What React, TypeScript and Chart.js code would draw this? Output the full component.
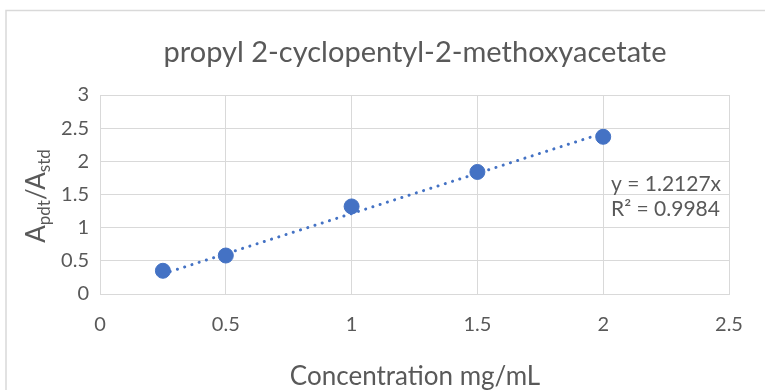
import React, { useEffect, useRef } from "react";
import { Chart, registerables } from "chart.js";

Chart.register(...registerables);

const titleText = "propyl 2-cyclopentyl-2-methoxyacetate";
const xTitle = "Concentration mg/mL";
const concentrations = [0.25, 0.5, 1, 1.5, 2];
const ratios = [0.35, 0.58, 1.32, 1.84, 2.37];
const trendX = [0.25, 2];
const trendY = [0.303, 2.425];
const equationLines = ["y = 1.2127x", "R² = 0.9984"];
const xTicks = [0, 0.5, 1, 1.5, 2, 2.5];
const yTicks = [0, 0.5, 1, 1.5, 2, 2.5, 3];

const FONT = "Lato, 'Open Sans', sans-serif";
const TEXT = "#595959";
const BLUE = "#4472C4";

const decorPlugin = {
  id: "decor",
  beforeDraw(chart: any) {
    const ctx = chart.ctx;
    ctx.save();
    ctx.fillStyle = "#ffffff";
    ctx.fillRect(0, 0, chart.width, chart.height);
    ctx.strokeStyle = "#d9d9d9";
    ctx.lineWidth = 1.5;
    ctx.strokeRect(6, 10.5, chart.width + 10, chart.height + 10);
    ctx.restore();
  },
  afterDraw(chart: any) {
    const ctx = chart.ctx;
    ctx.save();
    ctx.fillStyle = TEXT;
    ctx.textAlign = "center";
    ctx.textBaseline = "middle";
    ctx.font = `29px ${FONT}`;
    ctx.fillText(titleText, 415, 53);
    ctx.font = `26px ${FONT}`;
    ctx.fillText(xTitle, 415, 377);

    // equation
    ctx.textAlign = "left";
    ctx.font = `21px ${FONT}`;
    ctx.fillText(equationLines[0], 611, 184);
    ctx.fillText(equationLines[1], 611, 209);

    // y axis title with subscripts
    ctx.translate(45, 196);
    ctx.rotate(-Math.PI / 2);
    const parts = [
      { t: "A", sub: false },
      { t: "pdt", sub: true },
      { t: "/A", sub: false },
      { t: "std", sub: true },
    ];
    const big = `26px ${FONT}`;
    const small = `17px ${FONT}`;
    let total = 0;
    for (const p of parts) {
      ctx.font = p.sub ? small : big;
      total += ctx.measureText(p.t).width;
    }
    let x = -total / 2;
    ctx.textBaseline = "alphabetic";
    for (const p of parts) {
      ctx.font = p.sub ? small : big;
      ctx.fillText(p.t, x, p.sub ? 5 : 0);
      x += ctx.measureText(p.t).width;
    }
    ctx.restore();
  },
};

export default function App() {
  const ref = useRef<HTMLCanvasElement>(null);
  useEffect(() => {
    document.body.style.margin = "0";
    const chart = new Chart(ref.current!, {
      type: "scatter",
      data: {
        datasets: [
          {
            data: concentrations.map((c, i) => ({ x: c, y: ratios[i] })),
            backgroundColor: BLUE,
            borderColor: BLUE,
            pointRadius: 7.5,
            pointHoverRadius: 7.5,
            order: 1,
          },
          {
            type: "line",
            data: trendX.map((c, i) => ({ x: c, y: trendY[i] })),
            borderColor: BLUE,
            borderWidth: 3,
            borderDash: [0.1, 7.5],
            borderCapStyle: "round",
            pointRadius: 0,
            fill: false,
            order: 2,
          } as any,
        ],
      },
      options: {
        animation: false,
        responsive: false,
        layout: { padding: { top: 95, right: 36, left: 0, bottom: 0 } },
        plugins: { legend: { display: false }, tooltip: { enabled: false } },
        scales: {
          x: {
            type: "linear",
            min: 0,
            max: 2.5,
            afterBuildTicks: (s: any) => {
              s.ticks = xTicks.map((v) => ({ value: v }));
            },
            afterFit: (s: any) => {
              s.height = 96;
            },
            grid: { color: "#d9d9d9", drawTicks: false },
            border: { color: "#d9d9d9" },
            ticks: {
              color: TEXT,
              font: { family: FONT, size: 20 },
              padding: 19,
              callback: (v: any) => String(v),
            },
          },
          y: {
            type: "linear",
            min: 0,
            max: 3,
            afterBuildTicks: (s: any) => {
              s.ticks = yTicks.map((v) => ({ value: v }));
            },
            afterFit: (s: any) => {
              s.width = 100;
            },
            grid: { color: "#d9d9d9", drawTicks: false },
            border: { color: "#d9d9d9" },
            ticks: {
              color: TEXT,
              font: { family: FONT, size: 20 },
              padding: 11,
              callback: (v: any) => String(v),
            },
          },
        },
      },
      plugins: [decorPlugin],
    });
    return () => chart.destroy();
  }, []);
  return (
    <div style={{ width: 765, height: 390 }}>
      <canvas ref={ref} width={765} height={390} style={{ display: "block" }} />
    </div>
  );
}
